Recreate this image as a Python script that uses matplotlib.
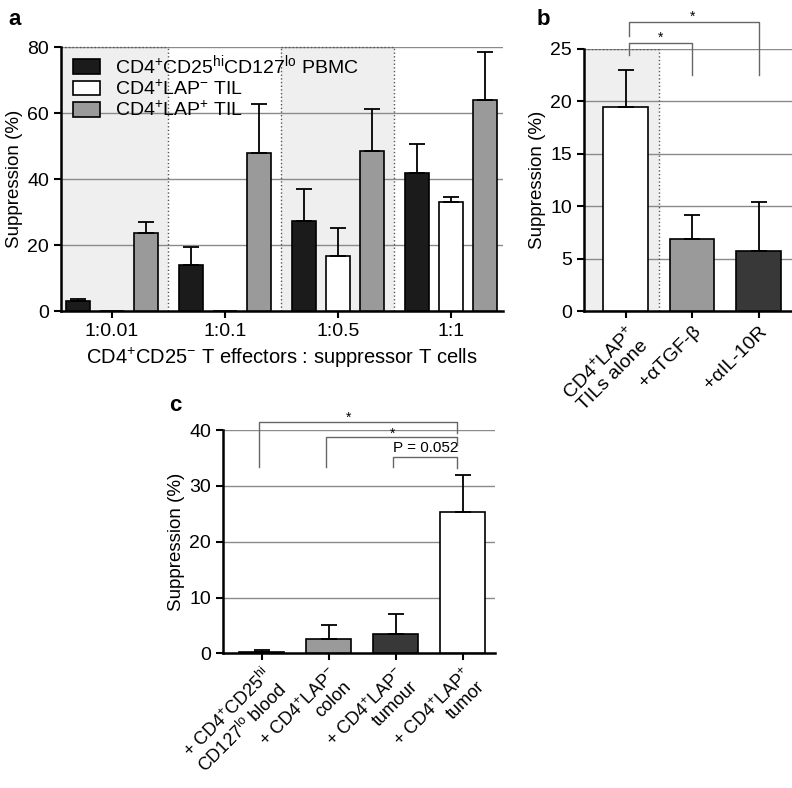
import numpy as np
import matplotlib
matplotlib.use("Agg")
import matplotlib.pyplot as plt
from matplotlib.patches import Patch

plt.rcParams['font.family'] = ['Liberation Sans', 'DejaVu Sans']
plt.rcParams['mathtext.fontset'] = 'custom'
plt.rcParams['mathtext.rm'] = 'Liberation Sans'
plt.rcParams['mathtext.it'] = 'Liberation Sans:italic'
plt.rcParams['mathtext.bf'] = 'Liberation Sans:bold'

# panel a data
ratios = ["1:0.01", "1:0.1", "1:0.5", "1:1"]
pbmc = [3.0, 14.0, 27.4, 41.8]
pbmc_err = [0.8, 5.4, 9.8, 9.0]
lap_neg = [0, 0, 16.7, 33.0]
lap_neg_err = [0, 0, 8.6, 1.6]
lap_pos = [23.6, 48.0, 48.5, 64.0]
lap_pos_err = [3.6, 14.7, 12.9, 14.6]
series_names = [r"CD4$^{+}$CD25$^{\mathrm{hi}}$CD127$^{\mathrm{lo}}$ PBMC",
                r"CD4$^{+}$LAP$^{-}$ TIL",
                r"CD4$^{+}$LAP$^{+}$ TIL"]

# panel b data
b_labels = ["CD4$^{+}$LAP$^{+}$\nTILs alone", "+αTGF-β", "+αIL-10R"]
b_vals = [19.5, 6.9, 5.7]
b_err = [3.5, 2.3, 4.7]

# panel c data
c_labels = ["+ CD4$^{+}$CD25$^{\\mathrm{hi}}$\nCD127$^{\\mathrm{lo}}$ blood",
            "+ CD4$^{+}$LAP$^{-}$\ncolon",
            "+ CD4$^{+}$LAP$^{-}$\ntumour",
            "+ CD4$^{+}$LAP$^{+}$\ntumor"]
c_vals = [0.3, 2.5, 3.4, 25.3]
c_err = [0.2, 2.5, 3.7, 6.7]

BLACK = "#1b1b1b"
GRAY = "#9a9a9a"
DARK = "#383838"
GRID = "#8a8a8a"
SHADE = "#efefef"

fig = plt.figure(figsize=(7.92, 7.88), dpi=100)


def style_axes(ax, ymax, ystep):
    ax.spines['top'].set_visible(False)
    ax.spines['right'].set_visible(False)
    ax.spines['left'].set_linewidth(1.8)
    ax.spines['bottom'].set_linewidth(1.8)
    ax.set_ylim(0, ymax)
    ax.set_yticks(np.arange(0, ymax + 0.1, ystep))
    for y in np.arange(ystep, ymax + 0.1, ystep):
        ax.axhline(y, color=GRID, lw=1.0, zorder=1)
    ax.tick_params(axis='both', width=1.5, length=5, labelsize=14)
    ax.set_ylabel("Suppression (%)", fontsize=13.5, labelpad=3)


def bar_with_err(ax, x, h, e, w, color):
    ax.bar(x, h, w, color=color, edgecolor='black', linewidth=1.2, zorder=3)
    for xi, hi, ei in zip(x, h, e):
        if ei > 0:
            ax.errorbar(xi, hi, yerr=[[0], [ei]], color='black', lw=1.3,
                        capsize=6, capthick=1.3, zorder=4)


# ---- panel a ----
axa = fig.add_axes([0.077, 0.605, 0.558, 0.335])
axa.set_xlim(-0.45, 3.46)
style_axes(axa, 80, 20)
for lo, hi in [(-0.45, 0.5), (1.5, 2.5)]:
    axa.axvspan(lo, hi, color=SHADE, zorder=0, lw=0)
    axa.plot([lo, hi], [80, 80], ls=':', color='#555555', lw=1.0, zorder=2, clip_on=False)
for xv in [0.5, 1.5, 2.5]:
    axa.axvline(xv, ls=':', color='#555555', lw=1.0, zorder=2)
xa = np.arange(len(ratios))
w = 0.21
bar_with_err(axa, xa - 0.3, pbmc, pbmc_err, w, BLACK)
bar_with_err(axa, xa, lap_neg, lap_neg_err, w, 'white')
bar_with_err(axa, xa + 0.3, lap_pos, lap_pos_err, w, GRAY)
axa.set_xticks(xa)
axa.set_xticklabels(ratios)
axa.set_xlabel(r"CD4$^{+}$CD25$^{-}$ T effectors : suppressor T cells", fontsize=14.5)
handles = [Patch(facecolor=c, edgecolor='black', lw=1.2) for c in [BLACK, 'white', GRAY]]
leg = axa.legend(handles, series_names, loc='upper left', bbox_to_anchor=(0.0, 1.02),
                 frameon=False, fontsize=14, handlelength=1.4, handleheight=0.8,
                 labelspacing=0.1, borderaxespad=0.2, handletextpad=0.8)
leg.set_zorder(5)

# ---- panel b ----
axb = fig.add_axes([0.737, 0.605, 0.263, 0.333])
axb.set_xlim(-0.63, 2.5)
style_axes(axb, 25, 5)
axb.axvspan(-0.63, 0.5, color=SHADE, zorder=0, lw=0)
axb.axvline(0.5, ls=':', color='#555555', lw=1.0, zorder=2)
axb.plot([-0.63, 0.5], [25, 25], ls=':', color='#555555', lw=1.0, zorder=2)
xb = np.arange(len(b_vals))
bar_with_err(axb, xb, b_vals, b_err, 0.67, ['white', GRAY, DARK])
axb.set_xticks(xb)
axb.set_xticklabels(b_labels, rotation=45, ha='right', rotation_mode='anchor',
                    fontsize=14, linespacing=1.0)


def bracket(ax, x0, x1, y, y0, y1, text, tx=None, ty_off=0.3, fs=10):
    ax.plot([x0, x0, x1, x1], [y0, y, y, y1], color='#666666', lw=1.0, clip_on=False, zorder=6)
    tx = (x0 + x1) / 2 if tx is None else tx
    ax.text(tx, y + ty_off, text, ha='center', va='bottom', fontsize=fs, clip_on=False)


bracket(axb, 0.05, 1.0, 25.6, 24.4, 22.5, "*", ty_off=-0.2)
bracket(axb, 0.05, 2.0, 27.6, 26.2, 22.5, "*", tx=1.0, ty_off=-0.2)

# ---- panel c ----
axc = fig.add_axes([0.2816, 0.171, 0.3434, 0.283])
axc.set_xlim(-0.58, 3.48)
style_axes(axc, 40, 10)
xc = np.arange(len(c_vals))
bar_with_err(axc, xc, c_vals, c_err, 0.67, [BLACK, GRAY, DARK, 'white'])
axc.set_xticks(xc)
axc.set_xticklabels(c_labels, rotation=45, ha='right', rotation_mode='anchor',
                    fontsize=13, linespacing=1.02)
bracket(axc, -0.05, 2.92, 41.5, 33.4, 39.5, "*", tx=1.3, ty_off=-0.6)
bracket(axc, 0.95, 2.92, 38.7, 33.4, 37.3, "*", tx=1.95, ty_off=-0.6)
bracket(axc, 1.95, 2.92, 35.2, 33.4, 33.2, "P = 0.052", tx=2.45, ty_off=0.3, fs=11)

# panel letters
fig.text(0.010, 0.975, "a", fontsize=16, fontweight='bold', va='center')
fig.text(0.678, 0.975, "b", fontsize=16, fontweight='bold', va='center')
fig.text(0.214, 0.486, "c", fontsize=16, fontweight='bold', va='center')

fig.savefig("out.png", dpi=100)
